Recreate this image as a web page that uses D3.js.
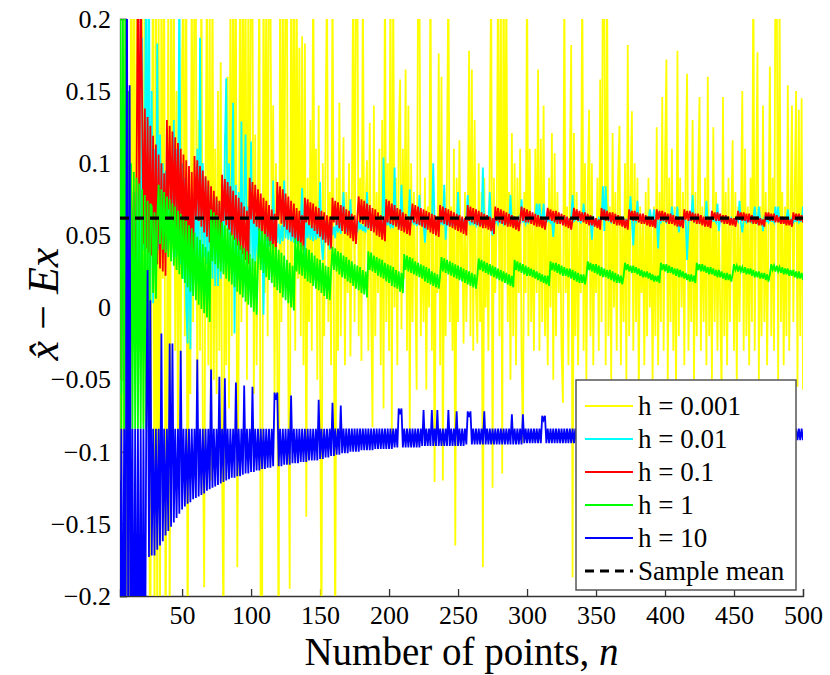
<!DOCTYPE html>
<html>
<head>
<meta charset="utf-8">
<script src="https://cdn.jsdelivr.net/npm/d3@7"></script>
<style>
  body { margin: 0; background: #fff; }
  svg { display: block; }
</style>
</head>
<body>
<svg id="chart" width="830" height="675"></svg>
<script>
// Estimator error x̂ − Ex against sample size n (n = 5 … 500), one series per bandwidth h.
// Values are stored in thousandths.
const nStart = 5, nEnd = 500;

const h0001 = [
  150,-120,180,-90,220,-250,90,-260,240,30,
  260,-40,210,-60,120,-20,230,-80,250,10,
  130,-120,-260,90,250,-240,270,-250,220,-230,
  240,20,260,-240,-60,230,-250,210,40,240,
  -30,150,-90,110,-40,170,230,-20,250,-260,
  60,-60,240,-10,260,210,-70,130,-30,250,
  -80,-194,90,230,-40,220,-120,250,-50,110,
  -60,150,-30,170,-110,-230,120,-40,160,-70,
  220,-20,260,40,230,-180,-30,240,-10,250,
  60,230,-50,210,20,260,220,-60,120,-40,
  80,240,-260,-230,250,10,230,-20,260,230,
  30,140,-60,100,-40,-250,240,-10,220,30,
  250,210,-50,-195,230,0,260,-30,240,20,
  180,-20,188,-40,183,-145,90,-10,130,-30,
  250,20,110,-50,140,-30,-250,100,-20,120,
  230,-10,80,-40,240,0,-240,90,-30,142,
  -20,60,118,-40,80,10,100,-34,60,240,
  -10,230,250,-20,90,-37,230,20,70,102,
  -30,128,0,-83,140,-20,80,10,110,-40,
  130,-70,240,-10,100,-30,250,-92,230,0,
  90,-40,120,158,-15,110,20,165,-30,140,
  -85,100,-10,80,20,-57,230,240,-20,60,
  -10,90,-57,70,0,250,-30,90,-121,60,
  10,176,-40,160,-120,80,-20,100,240,-10,
  70,-30,110,-165,90,-10,116,20,60,-25,
  80,-10,50,178,-20,165,-30,130,10,-25,
  100,-10,80,-180,90,0,60,-30,110,230,
  -125,90,10,60,240,-20,230,-115,250,20,
  230,-10,80,-50,121,-20,100,-40,90,10,
  110,-30,-94,80,10,240,-20,110,-10,60,
  -30,110,10,165,-30,117,-10,140,-20,60,
  -40,90,0,121,-50,107,-20,80,10,60,
  -30,-66,230,10,70,-40,90,182,-187,121,
  -20,80,-40,60,10,240,-30,100,-50,80,
  137,-20,100,-40,60,10,90,-30,158,-10,
  250,220,-40,230,-20,70,-50,121,0,80,
  -30,90,126,-40,60,-10,100,-50,182,-20,
  80,136,-30,100,-10,90,-60,70,10,60,
  -40,80,-20,90,0,60,-50,70,-20,125,
  -40,80,-10,146,-30,100,172,-50,90,-10,
  110,-30,70,-60,178,-20,90,0,80,-40,
  100,162,-30,60,-10,130,-50,80,-20,90,
  146,-30,70,-10,90,-40,160,-20,60,-50,
  125,-10,80,-30,60,0,-60,146,-20,80,
  -40,90,-10,60,116,-30,80,-50,70,-10,
  60,150,-30,110,-20,70,-40,90,-10,250,
  -30,80,177,-50,70,-20,140,-10,80,-40,
  60,167,-20,90,-30,240,230,-50,220,-10,
  80,-40,70,-20,154,-30,60,140,-10,80,
  150,-55,137,-20,145,-57
];

const h001 = [
  120,-60,110,-50,100,-40,90,-30,80,-20,
  70,10,80,20,90,30,187,40,120,250,
  20,240,3,150,3,110,30,183,40,120,
  50,100,45,95,40,90,50,85,45,130,
  35,110,40,240,30,100,20,90,0,-25,
  80,-29,75,10,70,20,110,25,187,30,
  100,35,90,30,85,25,80,20,78,15,
  75,15,72,20,70,25,110,159,40,100,
  30,90,142,-18,85,20,80,25,129,30,
  75,120,30,70,35,115,25,68,30,65,
  35,62,30,60,-5,58,40,56,42,55,
  44,88,46,60,45,58,44,57,46,88,
  48,62,47,60,46,58,45,57,44,56,
  45,60,83,50,35,62,48,60,47,58,
  46,58,47,57,48,87,45,33,50,60,
  48,58,40,57,50,56,48,62,52,60,
  51,62,80,58,52,60,53,75,54,58,
  53,57,52,60,54,58,53,56,52,80,
  54,62,55,60,56,58,55,57,54,60,
  56,104,55,62,57,60,56,58,55,97,
  57,60,56,58,85,57,58,60,57,58,
  82,59,60,58,59,57,58,78,57,60,
  58,45,59,60,58,62,57,100,58,60,
  57,62,58,60,57,85,47,62,58,60,
  57,62,58,60,59,80,58,62,57,60,
  58,62,78,60,57,62,58,60,57,61,
  58,62,57,97,58,62,59,60,80,58,
  50,62,59,61,58,62,59,61,58,62,
  59,61,58,78,59,62,58,61,59,62,
  58,75,59,62,58,61,59,62,60,61,
  59,62,72,61,72,62,60,72,59,62,
  60,62,59,61,49,62,60,61,59,62,
  60,61,59,62,60,61,59,62,78,60,
  61,62,60,61,59,62,72,61,60,62,
  59,61,47,62,60,61,59,62,60,61,
  84,53,84,62,60,61,59,62,60,61,
  59,62,60,61,59,62,60,61,59,62,
  77,61,43,62,60,74,59,62,60,61,
  59,62,60,61,68,62,60,68,59,62,
  41,61,59,62,60,61,59,62,60,61,
  70,62,60,61,70,52,60,61,59,62,
  60,33,59,62,60,78,59,62,60,61,
  59,62,60,61,59,74,60,61,59,62,
  60,61,59,72,53,62,60,61,59,62,
  60,61,59,62,60,61,59,62,60,74,
  59,52,60,61,59,62,60,61,59,62,
  70,61,59,70,60,61,53,62,60,61,
  59,62,60,61,59,70,60,70,59,62,
  60,61,59,62,68,61,60,62,59,61,
  60,62,59,61,60,70
];

const h01 = [
  150,-50,150,-50,120,-60,100,-40,90,-20,
  80,-10,90,240,60,230,145,44,138,41,
  132,38,126,36,119,33,113,30,106,27,
  100,25,93,22,130,68,126,63,122,59,
  118,55,114,50,110,46,106,41,102,37,
  98,32,94,28,105,63,102,60,98,56,
  95,52,91,49,88,45,84,42,81,38,
  77,35,74,31,92,60,89,57,87,54,
  84,50,81,47,78,43,76,40,73,37,
  70,33,67,30,90,61,87,58,85,56,
  82,53,79,51,76,48,74,46,71,43,
  68,41,65,38,87,61,84,58,82,56,
  79,54,77,52,74,49,72,47,69,45,
  67,42,64,40,76,59,75,57,73,55,
  72,53,70,51,69,49,67,47,66,45,
  64,43,63,41,76,59,74,57,73,55,
  71,53,70,51,68,50,67,48,65,46,
  64,44,62,77,59,75,58,74,56,72,
  55,71,53,69,52,68,50,66,49,64,
  47,63,46,75,59,74,58,72,57,71,
  56,69,54,68,53,66,52,65,51,63,
  50,62,72,59,71,58,70,57,69,56,
  68,55,67,54,66,52,65,51,64,50,
  63,49,71,59,70,58,69,57,68,56,
  67,55,66,54,65,53,64,52,63,51,
  62,50,71,60,70,59,69,58,68,57,
  67,56,66,55,65,55,64,54,63,53,
  62,51,70,60,69,59,68,58,67,57,
  66,56,65,56,64,55,63,54,62,53,
  61,70,60,69,59,68,59,67,58,66,
  57,65,56,64,56,63,55,62,54,61,
  69,61,68,60,67,59,67,58,66,58,
  65,57,64,56,63,55,62,54,61,69,
  61,68,60,67,60,66,59,66,58,65,
  57,64,57,63,56,62,55,61,54,69,
  61,68,60,67,60,66,59,66,58,65,
  57,64,57,63,56,62,55,61,54,68,
  61,67,60,67,60,66,59,65,58,65,
  58,64,57,63,56,62,56,61,55,68,
  61,67,60,67,60,66,59,65,58,65,
  58,64,57,63,56,62,56,61,55,68,
  61,67,60,67,60,66,59,65,58,65,
  58,64,57,63,56,62,56,61,55,67,
  61,66,60,66,60,65,59,64,58,64,
  58,63,57,62,57,62,56,61,67,61,
  66,60,66,60,65,59,65,59,64,58,
  63,58,63,57,62,57,61,56,66,61,
  66,60,65,60,65,59,64,59,63,58,
  63,58,62,57,62,57,61,56,66,61,
  65,60,65,60,64,59
];

const h1 = [
  250,-84,250,-84,250,-84,150,-84,100,-84,
  94,-84,90,-84,86,-84,82,-84,78,-84,
  74,-84,72,70,10,66,6,62,85,44,
  82,40,80,38,77,35,75,32,72,29,
  70,26,67,23,65,20,62,17,60,14,
  57,11,55,8,52,5,49,2,47,-1,
  44,-4,42,-7,39,-10,68,32,66,30,
  64,27,61,25,59,23,57,20,55,18,
  52,16,50,14,48,11,46,9,43,7,
  41,4,39,2,37,0,34,-3,32,-5,
  30,55,26,53,24,51,21,49,19,46,
  17,44,14,42,12,40,10,38,7,36,
  5,33,3,31,0,29,-2,48,25,46,
  23,45,22,43,20,41,18,40,17,38,
  15,36,13,34,12,33,10,31,8,29,
  6,28,5,26,42,26,41,25,39,23,
  38,21,36,20,35,18,33,17,32,15,
  30,13,29,12,28,10,26,9,25,7,
  39,26,38,25,36,24,35,22,34,21,
  33,20,31,18,30,17,29,15,28,14,
  26,13,25,11,24,10,37,26,36,25,
  35,24,34,23,32,22,31,21,30,20,
  29,18,28,17,27,16,25,15,24,14,
  23,13,22,35,25,34,24,33,23,32,
  22,31,21,30,20,29,19,28,18,27,
  17,26,16,25,15,24,14,23,13,22,
  34,26,33,25,32,24,31,23,30,22,
  29,21,28,20,27,19,26,18,25,17,
  24,16,23,15,22,14,33,26,32,25,
  31,24,30,23,29,22,28,22,27,21,
  26,20,25,19,24,18,23,17,22,16,
  22,15,32,26,31,25,31,24,30,23,
  29,22,28,22,27,21,27,20,26,19,
  25,18,24,17,23,17,23,16,22,32,
  26,31,25,30,24,30,23,29,22,28,
  21,27,21,26,20,26,19,25,18,24,
  17,23,17,22,16,22,31,26,30,25,
  29,24,29,24,28,23,27,22,26,21,
  25,21,25,20,24,19,23,18,22,18,
  22,17,31,26,30,25,30,24,29,24,
  28,23,27,22,27,21,26,21,25,20,
  24,19,23,18,23,18,22,17,31,26,
  30,25,30,25,29,24,28,23,28,23,
  27,22,26,21,26,21,25,20,24,19,
  24,19,23,18,23,30,26,29,25,29,
  25,28,24,28,23,27,23,27,22,26,
  21,25,21,25,20,24,20,24,19,23,
  18,23,30,26,29,25,29,25,28,24,
  28,23,27,23,27,22,26,22,26,21,
  25,20,25,20,24,19
];

const h10 = [
  -300,-84,-300,-84,-300,260,-300,154,-300,-84,
  -300,-84,-300,-84,-300,-84,-300,-84,-300,-84,
  26,-173,5,-172,-84,-172,-84,-168,-84,-165,
  -18,-162,-84,-158,-84,-155,-25,-152,-25,-149,
  -84,-146,-84,-143,-30,-140,-84,-138,-84,-136,
  -84,-135,-84,-133,-84,-132,-36,-131,-84,-130,
  -84,-129,-84,-127,-84,-126,-43,-125,-84,-124,
  -84,-123,-48,-122,-84,-121,-49,-120,-84,-119,
  -84,-118,-84,-118,-52,-117,-84,-117,-84,-116,
  -54,-115,-84,-115,-84,-114,-55,-114,-84,-113,
  -84,-113,-84,-112,-84,-112,-84,-111,-84,-111,
  -84,-110,-59,-64,-59,-110,-84,-110,-84,-109,
  -84,-109,-84,-109,-61,-108,-84,-108,-84,-108,
  -84,-107,-84,-107,-84,-107,-84,-106,-84,-106,
  -84,-106,-84,-106,-64,-105,-84,-105,-84,-104,
  -84,-104,-84,-103,-66,-103,-84,-102,-84,-102,
  -68,-101,-84,-101,-84,-101,-84,-100,-84,-100,
  -84,-100,-84,-100,-84,-99,-84,-99,-84,-99,
  -84,-99,-84,-99,-84,-98,-84,-98,-84,-98,
  -84,-98,-84,-98,-84,-98,-84,-98,-84,-97,
  -84,-97,-70,-74,-70,-97,-84,-97,-84,-97,
  -84,-97,-84,-97,-84,-97,-84,-97,-84,-96,
  -71,-96,-84,-96,-84,-96,-71,-96,-84,-96,
  -71,-96,-84,-96,-84,-96,-84,-96,-71,-96,
  -84,-96,-84,-96,-72,-96,-84,-96,-84,-96,
  -84,-95,-72,-76,-72,-95,-84,-95,-84,-95,
  -84,-95,-84,-95,-72,-95,-84,-95,-84,-95,
  -84,-95,-84,-95,-84,-95,-84,-95,-84,-95,
  -84,-95,-84,-95,-74,-95,-84,-95,-84,-95,
  -84,-95,-74,-94,-84,-94,-84,-94,-84,-94,
  -84,-94,-84,-94,-84,-94,-75,-78,-75,-94,
  -84,-94,-84,-94,-84,-94,-84,-94,-84,-94,
  -84,-94,-84,-94,-84,-94,-84,-94,-84,-94,
  -84,-94,-84,-94,-84,-94,-84,-94,-84,-94,
  -84,-94,-84,-94,-84,-93,-84,-93,-84,-93,
  -84,-93,-84,-93,-84,-93,-84,-93,-84,-93,
  -84,-93,-84,-93,-84,-93,-84,-93,-84,-93,
  -84,-93,-84,-93,-84,-93,-84,-93,-84,-93,
  -84,-93,-84,-93,-84,-93,-84,-93,-84,-93,
  -84,-93,-84,-93,-84,-93,-84,-93,-84,-93,
  -84,-93,-84,-93,-84,-93,-84,-93,-84,-93,
  -84,-93,-84,-93,-84,-93,-84,-93,-84,-93,
  -84,-92,-84,-92,-84,-92,-84,-92,-84,-92,
  -84,-92,-84,-92,-84,-92,-84,-92,-84,-92,
  -84,-92,-84,-92,-84,-92,-84,-92,-84,-92,
  -84,-92,-84,-92,-84,-92,-84,-92,-84,-92,
  -84,-92,-84,-92,-84,-92,-84,-92,-84,-92,
  -84,-92,-84,-92,-84,-92,-84,-92,-84,-92,
  -84,-92,-84,-92,-84,-92,-84,-92,-84,-92,
  -84,-92,-84,-92,-84,-92
];

const sampleMean = 62;

const seriesNames  = ["h = 0.001", "h = 0.01", "h = 0.1", "h = 1", "h = 10"];
const seriesValues = [h0001, h001, h01, h1, h10];
const seriesColors = ["#ffff00", "#00ffff", "#ff0000", "#00ff00", "#0000ff"];

const xTicks = [50, 100, 150, 200, 250, 300, 350, 400, 450, 500];
const yTicks = [-0.2, -0.15, -0.1, -0.05, 0, 0.05, 0.1, 0.15, 0.2];
const yTickLabels = ["\u22120.2", "\u22120.15", "\u22120.1", "\u22120.05", "0", "0.05", "0.1", "0.15", "0.2"];

const SERIF = "'Liberation Serif', 'DejaVu Serif', 'Noto Serif', FreeSerif, Tinos, 'Times New Roman', Times, serif";

// ---- layout ----
const svg = d3.select("#chart");
const plot = { left: 120, right: 803, top: 19, bottom: 596 };

const x = d3.scaleLinear().domain([nStart, nEnd]).range([plot.left, plot.right]);
const y = d3.scaleLinear().domain([-0.2, 0.2]).range([plot.bottom, plot.top]);

svg.append("defs").append("clipPath").attr("id", "plotClip")
  .append("rect")
  .attr("x", plot.left).attr("y", plot.top)
  .attr("width", plot.right - plot.left).attr("height", plot.bottom - plot.top);

// axes (drawn beneath the data)
const xAxis = d3.axisBottom(x).tickValues(xTicks).tickSize(-7).tickPadding(10).tickFormat(d3.format("d"));
const gx = svg.append("g").attr("transform", `translate(0,${plot.bottom})`).call(xAxis)
  .attr("font-family", SERIF).attr("font-size", 26);
gx.select(".domain").attr("stroke", "#333").attr("stroke-width", 1.3);
gx.selectAll(".tick line").attr("stroke", "#333").attr("stroke-width", 1.3);
gx.selectAll(".tick text").attr("fill", "#000");

const yAxis = d3.axisLeft(y).tickValues(yTicks).tickSize(-7).tickPadding(9)
  .tickFormat((d, i) => yTickLabels[i]);
const gy = svg.append("g").attr("transform", `translate(${plot.left},0)`).call(yAxis)
  .attr("font-family", SERIF).attr("font-size", 26);
gy.select(".domain").attr("stroke", "#333").attr("stroke-width", 1.3);
gy.selectAll(".tick line").attr("stroke", "#333").attr("stroke-width", 1.3);
gy.selectAll(".tick text").attr("fill", "#000");

// data lines
const line = d3.line()
  .x((d, i) => x(nStart + i))
  .y(d => y(d / 1000));

const dataG = svg.append("g").attr("clip-path", "url(#plotClip)");
seriesValues.forEach((vals, k) => {
  dataG.append("path")
    .datum(vals)
    .attr("fill", "none")
    .attr("stroke", seriesColors[k])
    .attr("stroke-width", 1.8)
    .attr("stroke-linejoin", "miter")
    .attr("d", line);
});

// sample mean
dataG.append("path")
  .datum([nStart, nEnd])
  .attr("fill", "none")
  .attr("stroke", "#000")
  .attr("stroke-width", 3.2)
  .attr("stroke-dasharray", "9,6")
  .attr("d", d3.line().x(n => x(n)).y(() => y(sampleMean / 1000)));

// axis titles
svg.append("text")
  .attr("x", (plot.left + plot.right) / 2)
  .attr("y", 665)
  .attr("text-anchor", "middle")
  .attr("font-family", SERIF)
  .attr("font-size", 39)
  .html('Number of points, <tspan font-style="italic">n</tspan>');

svg.append("text")
  .attr("transform", "translate(58,304) rotate(-90)")
  .attr("text-anchor", "middle")
  .attr("font-family", SERIF)
  .attr("font-size", 44)
  .html('<tspan font-style="italic">x\u0302</tspan> \u2212 <tspan font-style="italic">Ex</tspan>');

// legend
const legend = { x: 576, y: 380, w: 220, h: 210, row0: 406, step: 33 };
const lg = svg.append("g").attr("font-family", SERIF).attr("font-size", 27);
lg.append("rect")
  .attr("x", legend.x).attr("y", legend.y)
  .attr("width", legend.w).attr("height", legend.h)
  .attr("fill", "#fff").attr("stroke", "#555").attr("stroke-width", 1.5);

const legendItems = seriesNames.map((name, k) => ({ name, color: seriesColors[k], dash: null }))
  .concat([{ name: "Sample mean", color: "#000", dash: "9,6" }]);

legendItems.forEach((it, k) => {
  const cy = legend.row0 + k * legend.step;
  lg.append("line")
    .attr("x1", 585).attr("x2", 633).attr("y1", cy).attr("y2", cy)
    .attr("stroke", it.color)
    .attr("stroke-width", it.dash ? 3 : 1.8)
    .attr("stroke-dasharray", it.dash);
  lg.append("text")
    .attr("x", 638).attr("y", cy)
    .attr("dy", "0.35em")
    .text(it.name);
});
</script>
</body>
</html>
